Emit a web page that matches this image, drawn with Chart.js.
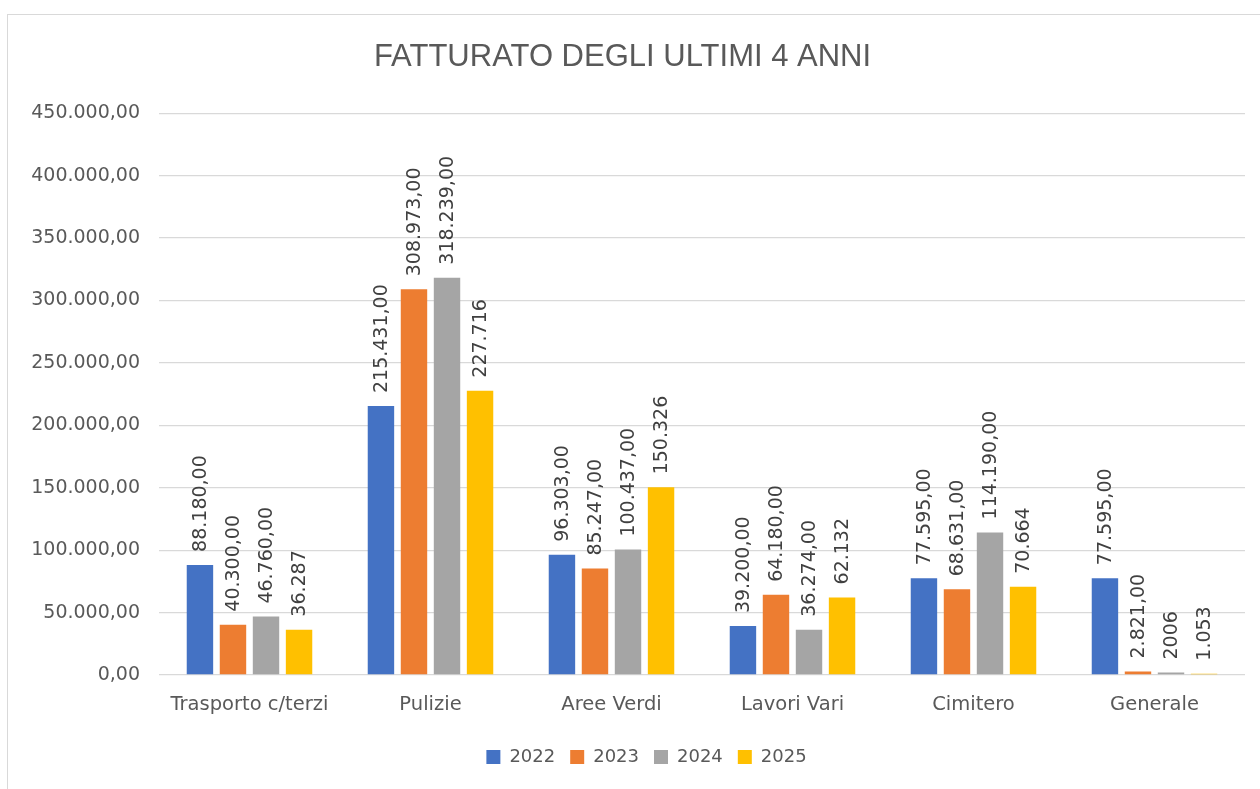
<!DOCTYPE html>
<html>
<head>
<meta charset="utf-8">
<script src="https://cdn.jsdelivr.net/npm/chart.js@4.4.1/dist/chart.umd.min.js"></script>
<style>
  html, body { margin: 0; padding: 0; background: #fff; overflow: hidden; }
  #frame { position: absolute; left: 7px; top: 14px; width: 1300px; height: 900px; border: 1px solid #d9d9d9; }
  #wrap { position: absolute; left: 0; top: 0; width: 1260px; height: 789px; }
</style>
</head>
<body>
<div id="frame"></div>
<div id="wrap"><canvas id="chart" width="1260" height="789"></canvas></div>
<script>
// Categories and series
const categories = ['Trasporto c/terzi', 'Pulizie', 'Aree Verdi', 'Lavori Vari', 'Cimitero', 'Generale'];
const years = ['2022', '2023', '2024', '2025'];

const values2022 = [88180, 215431, 96303, 39200, 77595, 77595];
const values2023 = [40300, 308973, 85247, 64180, 68631, 2821];
const values2024 = [46760, 318239, 100437, 36274, 114190, 2006];
const values2025 = [36287, 227716, 150326, 62132, 70664, 1053];

// Data labels exactly as shown on the picture
const labels2022 = ['88.180,00', '215.431,00', '96.303,00', '39.200,00', '77.595,00', '77.595,00'];
const labels2023 = ['40.300,00', '308.973,00', '85.247,00', '64.180,00', '68.631,00', '2.821,00'];
const labels2024 = ['46.760,00', '318.239,00', '100.437,00', '36.274,00', '114.190,00', '2006'];
const labels2025 = ['36.287', '227.716', '150.326', '62.132', '70.664', '1.053'];

const colors = ['#4472C4', '#ED7D31', '#A5A5A5', '#FFC000'];
const FONT = "'DejaVu Sans', sans-serif";

function formatIt(v) {
    const intPart = Math.round(v).toString().replace(/\B(?=(\d{3})+(?!\d))/g, '.');
    return intPart + ',00';
}

const seriesValues = [values2022, values2023, values2024, values2025];
const seriesLabels = [labels2022, labels2023, labels2024, labels2025];

const datasets = years.map((y, i) => ({
    label: y,
    data: seriesValues[i],
    valueLabels: seriesLabels[i],
    backgroundColor: colors[i],
    borderWidth: 0,
    categoryPercentage: 0.73,
    barPercentage: 0.8
}));

// rotated value labels above the bars
const barLabels = {
    id: 'barLabels',
    afterDatasetsDraw(chart) {
        const ctx = chart.ctx;
        ctx.save();
        ctx.font = '19px ' + FONT;
        ctx.fillStyle = '#404040';
        chart.data.datasets.forEach((ds, di) => {
            const meta = chart.getDatasetMeta(di);
            meta.data.forEach((bar, j) => {
                ctx.save();
                ctx.translate(bar.x, bar.y - 13);
                ctx.rotate(-Math.PI / 2);
                ctx.textAlign = 'left';
                ctx.textBaseline = 'middle';
                ctx.fillText(ds.valueLabels[j], 0, 1);
                ctx.restore();
            });
        });
        ctx.restore();
    }
};

// legend in the reference sits a bit right of centre
const legendShift = {
    id: 'legendShift',
    beforeDraw(chart) {
        const lg = chart.legend;
        if (lg && !lg._shifted) {
            lg.left += 24;
            lg.right += 24;
            lg._shifted = true;
        }
    }
};

new Chart(document.getElementById('chart').getContext('2d'), {
    type: 'bar',
    data: { labels: categories, datasets: datasets },
    plugins: [barLabels, legendShift],
    options: {
        responsive: false,
        animation: false,
        layout: { padding: { left: 0, right: 15, top: 0, bottom: 13 } },
        scales: {
            x: {
                grid: { display: false },
                border: { display: false },
                ticks: { color: '#595959', font: { family: FONT, size: 19.5 }, padding: 10 },
                afterFit(scale) { scale.height = 58; }
            },
            y: {
                min: 0,
                max: 450000,
                grid: { color: '#d9d9d9', lineWidth: 1.3, drawTicks: false },
                border: { display: false },
                ticks: {
                    stepSize: 50000,
                    color: '#595959',
                    font: { family: FONT, size: 19 },
                    padding: 19,
                    callback: v => formatIt(v)
                },
                afterFit(scale) { scale.width = 159; }
            }
        },
        plugins: {
            title: {
                display: true,
                text: 'FATTURATO DEGLI ULTIMI 4 ANNI',
                color: '#595959',
                font: { family: "'Liberation Sans', Arial, sans-serif", size: 31, weight: 'normal' },
                padding: { top: 39, bottom: 37 }
            },
            legend: {
                position: 'bottom',
                labels: {
                    color: '#595959',
                    font: { family: FONT, size: 18 },
                    boxWidth: 14,
                    boxHeight: 14,
                    padding: 15
                }
            },
            tooltip: { enabled: false }
        }
    }
});
</script>
</body>
</html>
